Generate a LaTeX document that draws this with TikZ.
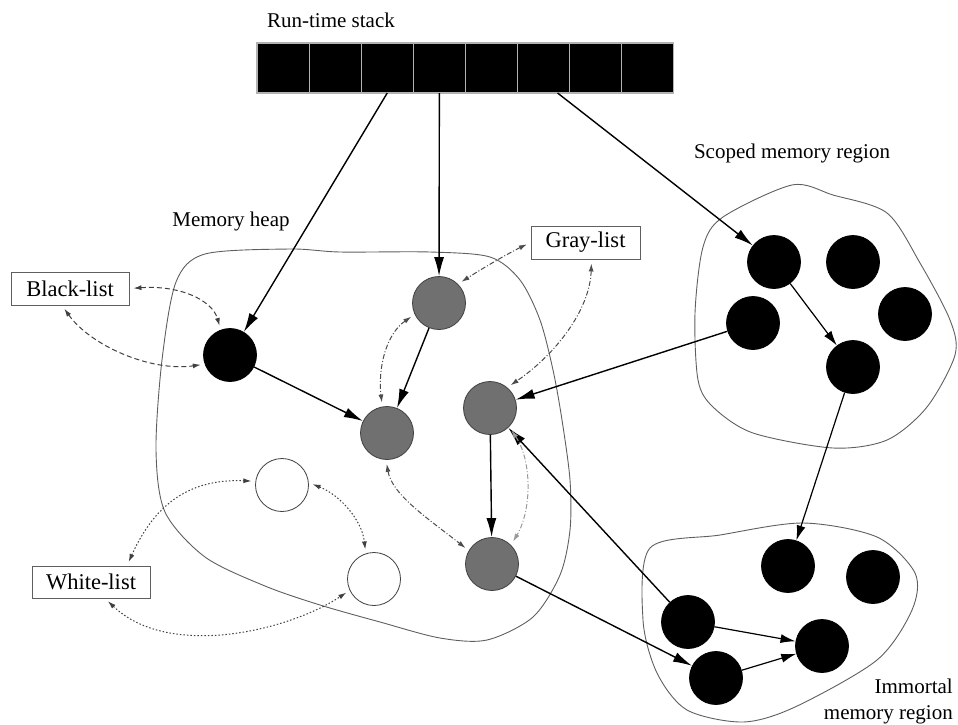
\documentclass[tikz,border=0pt]{standalone}
\usepackage{fontspec}
\setmainfont{Liberation Serif}
\usetikzlibrary{arrows.meta,calc}
\definecolor{nodegray}{RGB}{112,112,112}
\definecolor{linegray}{RGB}{95,95,95}
\begin{document}
\begin{tikzpicture}[x=1pt,y=-1pt,
  lbl/.style={font=\fontsize{21}{26}\selectfont, inner sep=0pt},
  listbox/.style={draw=linegray, line width=0.9pt, font=\fontsize{22.5}{26}\selectfont, minimum height=33pt, inner sep=0pt},
  cell/.style={draw=gray!60, fill=black, line width=1.2pt, minimum width=52.1pt, minimum height=50pt, inner sep=0pt, outer sep=0pt},
  obj/.style={circle, minimum size=53pt, inner sep=0pt, line width=0.8pt},
  blk/.style={obj, fill=black, draw=black},
  gry/.style={obj, fill=nodegray, draw=black!75},
  wht/.style={obj, fill=white, draw=black!75},
  region/.style={draw=linegray, line width=0.9pt},
  ref/.style={-{Latex[length=19pt,width=10pt]}, line width=1.4pt},
  sref/.style={-{Latex[length=15pt,width=9pt]}, line width=1.2pt},
  link/.style={{Latex[length=8pt,width=5pt]}-{Latex[length=8pt,width=5pt]}, line width=1pt, shorten >=4pt, shorten <=4pt},
  blink/.style={link, dash pattern=on 5pt off 3pt, draw=black!75},
  glink/.style={link, dash pattern=on 5pt off 2pt on 1pt off 2pt, draw=black!70},
  llink/.style={link, dash pattern=on 5pt off 2pt on 1pt off 2pt, draw=black!40},
  wlink/.style={link, dash pattern=on 1.5pt off 2pt, draw=black!75},
]
\useasboundingbox (0,0) rectangle (958,724);

% regions
\draw[region] plot[smooth cycle, tension=0.5] coordinates {
  (205,254) (290,249) (340,252) (430,252) (490,257) (520,280) (540,320) (553,370) (562,420)
  (570,480) (570,530) (560,575) (533,617) (487,640) (440,638) (380,622) (320,605)
  (265,586) (205,557) (165,512) (156,450) (162,360) (176,282)};
\draw[region] plot[smooth cycle, tension=0.5] coordinates {
  (792,185) (833,195) (887,213) (920,263) (950,320) (955,355) (927,407) (887,440)
  (833,448) (753,433) (713,407) (698,380) (695,313) (703,247) (723,217)};
\draw[region] plot[smooth cycle, tension=0.5] coordinates {
  (650,548) (720,535) (803,523) (877,537) (915,573) (912,610) (877,660) (795,707)
  (743,722) (687,710) (657,673) (643,620)};

% labels
\node[lbl] (rts) at (331,20) {Run-time stack};
\node[lbl] (mh) at (231,221) {Memory heap};
\node[lbl] (smr) at (792,153) {Scoped memory region};
\node[lbl, align=right, anchor=south east] (imm) at (953,724) {Immortal\\memory region};

% stack
\foreach \i in {1,...,8} \node[cell] (s\i) at ({257+52.1*(\i-0.5)},68) {};

% list boxes
\node[listbox, minimum width=118pt] (BL) at (70,288.5) {Black-list};
\node[listbox, minimum width=118pt, minimum height=32pt] (WL) at (91,582) {White-list};
\node[listbox, minimum width=109pt] (GL) at (585.5,242.5) {Gray-list};

% heap objects
\node[blk] (B1) at (230,355) {};
\node[gry] (G1) at (439,303) {};
\node[gry] (G3) at (387,433) {};
\node[gry] (G2) at (490,408) {};
\node[gry] (G4) at (492,564) {};
\node[wht] (W1) at (282,485) {};
\node[wht] (W2) at (374,579) {};

% scoped objects
\node[blk] (S1) at (774,262) {};
\node[blk] (S2) at (853,262) {};
\node[blk] (S3) at (753,323) {};
\node[blk] (S4) at (905,314) {};
\node[blk] (S5) at (853,367) {};

% immortal objects
\node[blk] (I3) at (788,566) {};
\node[blk] (I4) at (873,577) {};
\node[blk] (I1) at (688,622) {};
\node[blk] (I2) at (716,678) {};
\node[blk] (I5) at (822,646) {};

% references
\draw[ref] (s3.south) -- (B1);
\draw[ref] (s4.south) -- (G1);
\draw[ref] ([xshift=14pt]s6.south) -- (S1);
\draw[ref] (B1) -- (G3);
\draw[ref] (G1) -- (G3);
\draw[ref] (G2) -- (G4);
\draw[ref] (S3) -- (G2);
\draw[ref] (I1) -- (G2);
\draw[ref] (G4) -- (I2);
\draw[sref] (S1) -- (S5);
\draw[sref] (S5) -- (I3);
\draw[sref] (I1) -- (I5);
\draw[sref] (I2) -- (I5);

% black-list links
\draw[blink] (BL.east) .. controls (180,285) and (212,300) .. (B1.110);
\draw[blink] ([xshift=-8pt]BL.south) .. controls (90,345) and (150,372) .. (B1.200);

% gray-list links
\draw[glink] (GL.west) .. controls (505,255) and (480,270) .. (G1.45);
\draw[glink] ([xshift=6pt]GL.south) .. controls (590,310) and (555,355) .. (G2.50);
\draw[glink] (G1.205) .. controls (385,335) and (378,370) .. (G3.100);
\draw[glink] (G3.268) .. controls (392,495) and (430,520) .. (G4.150);
\draw[llink] (G2.-45) .. controls (532,460) and (532,510) .. (G4.45);

% white-list links
\draw[wlink] ([xshift=36pt]WL.north) .. controls (150,515) and (180,478) .. (W1.172);
\draw[wlink] ([xshift=14pt]WL.south) .. controls (170,660) and (290,630) .. (W2.205);
\draw[wlink] (W1.5) .. controls (340,495) and (362,520) .. (W2.108);
\end{tikzpicture}
\end{document}
